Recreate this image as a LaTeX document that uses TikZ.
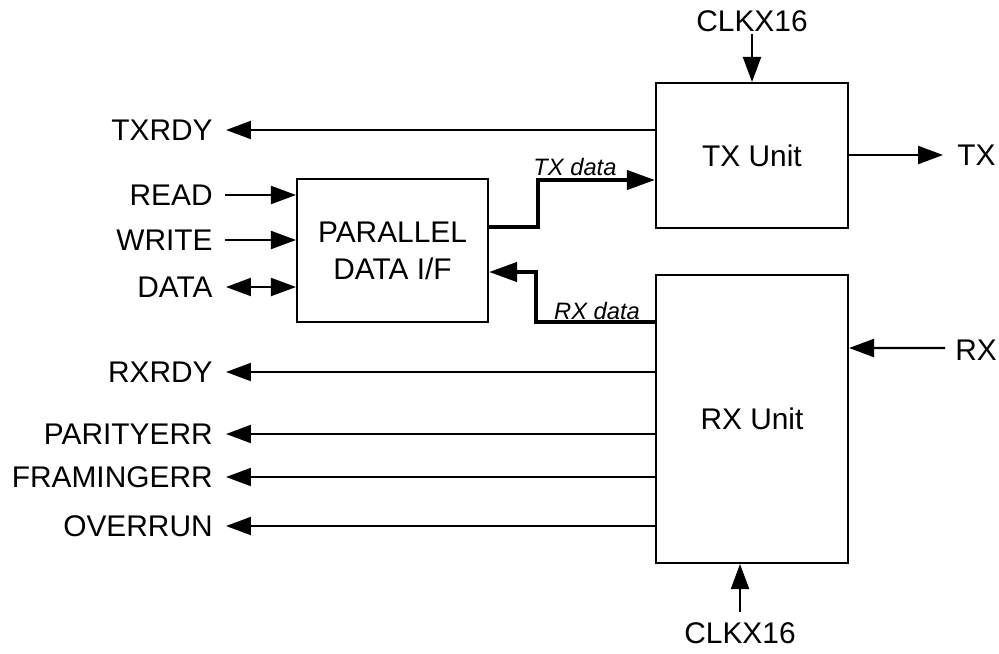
\documentclass[tikz,border=0pt]{standalone}
\usepackage{fontspec}
\setmainfont{Liberation Sans}
\usetikzlibrary{arrows.meta}
\begin{document}
\begin{tikzpicture}[x=0.02cm,y=-0.02cm,
  box/.style={draw,line width=1.2pt,inner sep=0pt,align=center,font=\fontsize{17}{21}\selectfont},
  lbl/.style={inner sep=0pt,font=\fontsize{17}{21}\selectfont},
  dlbl/.style={inner sep=0pt,font=\fontsize{13.5}{16}\selectfont\itshape},
  arr/.style={line width=1.2pt,-{Triangle[length=0.5cm,width=0.36cm]}},
  darr/.style={line width=1.2pt,{Triangle[length=0.5cm,width=0.36cm]}-{Triangle[length=0.5cm,width=0.36cm]}},
  tharr/.style={line width=2.3pt,-{Triangle[length=0.56cm,width=0.38cm]}}]
\useasboundingbox (0,0) rectangle (999,653);
% boxes
\node[box,minimum width=3.84cm,minimum height=2.9cm] (tx) at (752,155.5) {TX Unit};
\node[box,minimum width=3.84cm,minimum height=5.76cm] (rx) at (752,419) {RX Unit};
\node[box,minimum width=3.82cm,minimum height=2.86cm] (par) at (392.5,250.5) {PARALLEL\\DATA I/F};
% left labels
\node[lbl,anchor=east] (txrdy) at (213,130) {TXRDY};
\node[lbl,anchor=east] (read) at (213,195) {READ};
\node[lbl,anchor=east] (write) at (213,240) {WRITE};
\node[lbl,anchor=east] (data) at (213,287) {DATA};
\node[lbl,anchor=east] (rxrdy) at (213,372) {RXRDY};
\node[lbl,anchor=east] (parerr) at (213,434) {PARITYERR};
\node[lbl,anchor=east] (frerr) at (213,477) {FRAMINGERR};
\node[lbl,anchor=east] (ovr) at (213,526) {OVERRUN};
% right labels
\node[lbl,anchor=west] (txo) at (957,155) {TX};
\node[lbl,anchor=west] (rxi) at (955,350) {RX};
\node[lbl,anchor=south] (clkt) at (752,32) {CLKX16};
\node[lbl,anchor=north] (clkb) at (740,622) {CLKX16};
% connectors
\draw[arr] (tx.west |- txrdy.east) -- ([xshift=0.26cm]txrdy.east);
\draw[arr] ([xshift=0.24cm]read.east) -- (par.west |- read.east);
\draw[arr] ([xshift=0.24cm]write.east) -- (par.west |- write.east);
\draw[darr] ([xshift=0.26cm]data.east) -- (par.west |- data.east);
\draw[arr] (rx.west |- rxrdy.east) -- ([xshift=0.26cm]rxrdy.east);
\draw[arr] (rx.west |- parerr.east) -- ([xshift=0.26cm]parerr.east);
\draw[arr] (rx.west |- frerr.east) -- ([xshift=0.26cm]frerr.east);
\draw[arr] (rx.west |- ovr.east) -- ([xshift=0.26cm]ovr.east);
\draw[arr] (tx.east |- txo.west) -- ([xshift=-0.28cm]txo.west);
\draw[arr] ([xshift=-0.2cm,yshift=0.04cm]rxi.west) -- (rx.east |- 0,348);
\draw[arr] ([yshift=-0.04cm]clkt.south) -- (tx.north);
\draw[arr] ([yshift=0.2cm]clkb.north) -- (rx.south -| clkb.north);
% data paths
\draw[tharr] ([yshift=0.47cm]par.east) -- ++(49,0) |- ([yshift=-0.49cm]tx.west);
\node[dlbl] (txd) at (575,167) {TX data};
\draw[tharr] ([yshift=1.94cm]rx.west) -- ++(-119,0) |- ([yshift=-0.43cm]par.east);
\node[dlbl] (rxd) at (597,311) {RX data};
\end{tikzpicture}
\end{document}
